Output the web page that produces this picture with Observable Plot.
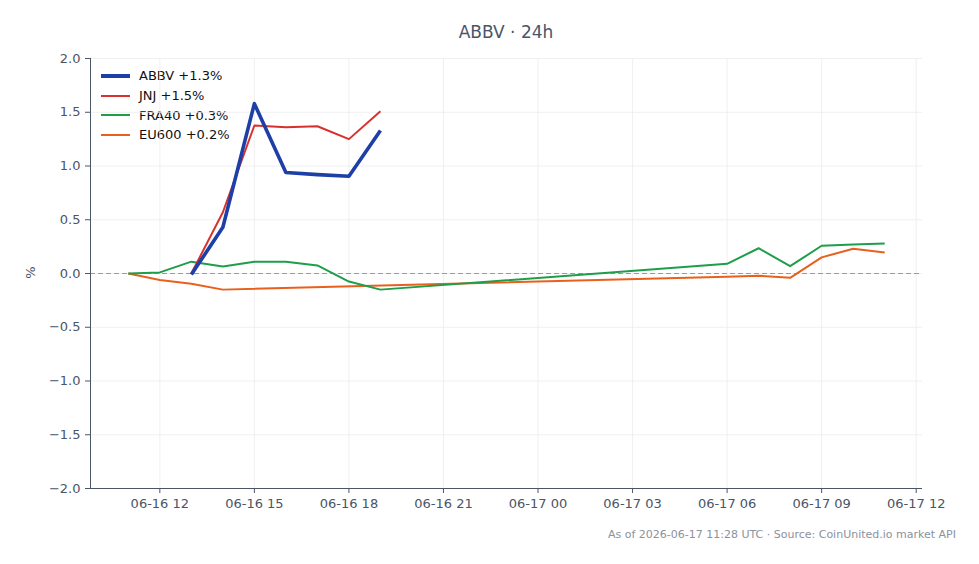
<!DOCTYPE html>
<html>
<head>
<meta charset="utf-8">
<script src="https://cdn.jsdelivr.net/npm/d3@7"></script>
<script src="https://cdn.jsdelivr.net/npm/@observablehq/plot@0.6"></script>
<style>
  html, body { margin: 0; padding: 0; background: #fff; }
  #wrap { position: relative; width: 979px; height: 564px; font-family: "DejaVu Sans", sans-serif; }
  #title { position: absolute; left: 90px; width: 832px; top: 22px; text-align: center; font-size: 17px; color: #4a5568; }
  #caption { position: absolute; right: 23px; top: 528px; font-size: 11px; color: #8a929e; white-space: nowrap; }
  #legend { position: absolute; left: 101px; top: 66px; font-size: 13px; color: #111; }
  #legend .row { display: flex; align-items: center; height: 19.7px; }
  #legend .sw { width: 29px; margin-right: 9px; }
  #ylab { position: absolute; left: 24px; top: 265px; font-size: 13px; color: #4a5568; transform: rotate(-90deg); transform-origin: center; }
  svg { position: absolute; left: 0; top: 0; }
</style>
</head>
<body>
<div id="wrap">
  <div id="title">ABBV · 24h</div>
  <div id="legend"></div>
  <div id="ylab">%</div>
  <div id="caption">As of 2026-06-17 11:28 UTC · Source: CoinUnited.io market API</div>
</div>
<script>
// hourly timestamps (UTC)
const hours = [
  "2026-06-16T11:00Z","2026-06-16T12:00Z","2026-06-16T13:00Z","2026-06-16T14:00Z","2026-06-16T15:00Z",
  "2026-06-16T16:00Z","2026-06-16T17:00Z","2026-06-16T18:00Z","2026-06-16T19:00Z","2026-06-16T20:00Z",
  "2026-06-16T21:00Z","2026-06-16T22:00Z","2026-06-16T23:00Z","2026-06-17T00:00Z","2026-06-17T01:00Z",
  "2026-06-17T02:00Z","2026-06-17T03:00Z","2026-06-17T04:00Z","2026-06-17T05:00Z","2026-06-17T06:00Z",
  "2026-06-17T07:00Z","2026-06-17T08:00Z","2026-06-17T09:00Z","2026-06-17T10:00Z","2026-06-17T11:00Z"
];
const N = null;
const abbv  = [N, N, -0.01, 0.43, 1.58, 0.94, 0.92, 0.905, 1.33, N,N,N,N,N,N,N,N,N,N,N,N,N,N,N,N];
const jnj   = [N, N, 0.0, 0.57, 1.377, 1.36, 1.37, 1.25, 1.51, N,N,N,N,N,N,N,N,N,N,N,N,N,N,N,N];
const fra40 = [0, 0.01, 0.11, 0.065, 0.11, 0.11, 0.075, -0.075, -0.15, N,N,N,N,N,N,N,N,N,N, 0.09, 0.235, 0.068, 0.258, 0.27, 0.28];
const eu600 = [0, -0.06, -0.095, -0.15, N,N,N,N,N,N,N,N,N,N,N,N,N,N,N, -0.03, -0.02, -0.04, 0.15, 0.23, 0.195];

const seriesNames = ["ABBV", "JNJ", "FRA40", "EU600"];
const seriesLabels = ["ABBV +1.3%", "JNJ +1.5%", "FRA40 +0.3%", "EU600 +0.2%"];
const seriesColors = ["#1e3fa6", "#d8312c", "#1f9e4a", "#e8601c"];
const seriesWidths = [3.6, 2, 2, 2];
const seriesValues = [abbv, jnj, fra40, eu600];

const yTicks = [-2.0, -1.5, -1.0, -0.5, 0.0, 0.5, 1.0, 1.5, 2.0];
const xDomain = [new Date("2026-06-16T09:48Z"), new Date("2026-06-17T12:12Z")];
const yDomain = [-2, 2];
const zeroLine = [0];

const times = hours.map(h => new Date(h));
const rows = [];
seriesValues.forEach((vals, i) => {
  vals.forEach((v, j) => { if (v !== null) rows.push({series: seriesNames[i], t: times[j], v}); });
});

const lineMarks = seriesNames.map((s, i) =>
  Plot.line(rows.filter(r => r.series === s), {
    x: "t", y: "v", stroke: seriesColors[i], strokeWidth: seriesWidths[i],
    strokeLinejoin: "round", strokeLinecap: "butt"
  })
).reverse();

const chart = Plot.plot({
  width: 979, height: 564,
  marginTop: 58, marginBottom: 76, marginLeft: 90, marginRight: 57,
  style: {fontFamily: "DejaVu Sans, sans-serif", fontSize: "13px", color: "#4a5568", background: "transparent"},
  x: {type: "utc", domain: xDomain},
  y: {domain: yDomain},
  marks: [
    Plot.gridX({ticks: d3.utcHour.every(3), stroke: "#ececec", strokeOpacity: 1, strokeWidth: 0.8}),
    Plot.gridY(yTicks, {stroke: "#ececec", strokeOpacity: 1, strokeWidth: 0.8}),
    Plot.ruleY(zeroLine, {stroke: "#8c9cb8", strokeWidth: 1.1, strokeDasharray: "5,3"}),
    ...lineMarks,
    Plot.ruleX([xDomain[0]], {stroke: "#4a5568", strokeWidth: 1}),
    Plot.ruleY([yDomain[0]], {stroke: "#4a5568", strokeWidth: 1}),
    Plot.axisX({ticks: d3.utcHour.every(3), tickFormat: d3.utcFormat("%m-%d %H"), tickSize: 5, tickPadding: 5, label: null, stroke: "#4a5568", fill: "#4a5568"}),
    Plot.axisY(yTicks, {tickFormat: d3.format(".1f"), tickSize: 5, tickPadding: 5, label: null, stroke: "#4a5568", fill: "#4a5568"})
  ]
});
document.getElementById("wrap").appendChild(chart);

const legend = document.getElementById("legend");
seriesNames.forEach((s, i) => {
  const row = document.createElement("div");
  row.className = "row";
  const sw = document.createElement("div");
  sw.className = "sw";
  sw.style.height = seriesWidths[i] + "px";
  sw.style.background = seriesColors[i];
  const tx = document.createElement("span");
  tx.textContent = seriesLabels[i];
  row.appendChild(sw); row.appendChild(tx);
  legend.appendChild(row);
});
</script>
</body>
</html>
